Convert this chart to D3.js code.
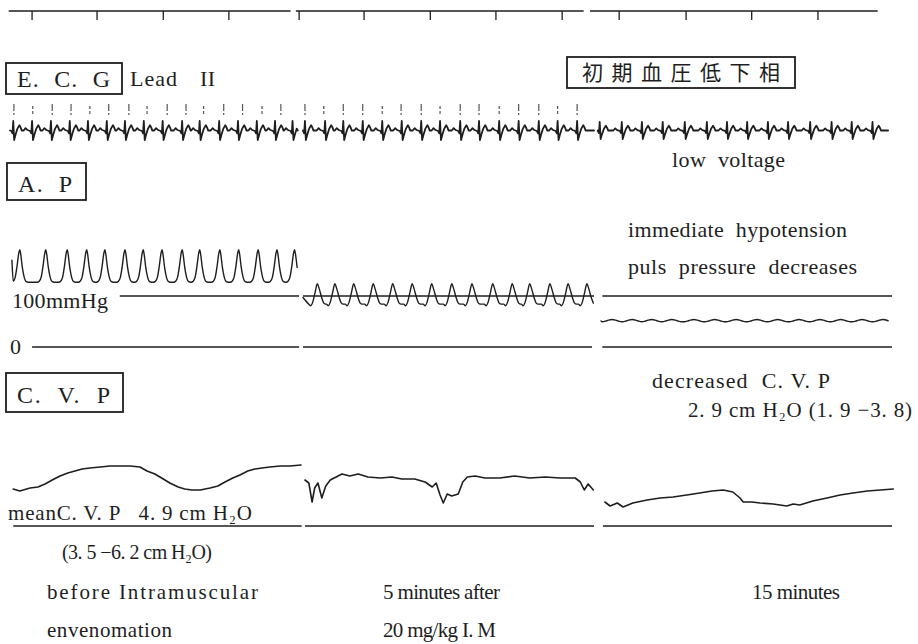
<!DOCTYPE html>
<html lang="en">
<head>
<meta charset="UTF-8">
<title>E.C.G / A.P / C.V.P recording</title>
<script src="https://d3js.org/d3.v7.min.js"></script>
<style>
  body { margin: 0; background: #fff; }
  svg text { white-space: pre; }
</style>
</head>
<body>
<script>
// time axis of each of the three strips, seconds
const stripSecs = 4.48;

// 1 s timer line at the top
const rulerSpans = [[-0.02, 4.32], [-0.11, 4.32], [-0.17, 4.26]];
const rulerTicks = [[0.34, 1.34, 2.36, 3.37], [-0.06, 0.94, 1.96, 2.97, 3.99], [0.28, 1.31, 2.32, 3.34]];

// ECG lead II: R-wave times (s), marker times, one beat (s from R, mV)
const ecgBeats1 = [0.05, 0.34, 0.63, 0.92, 1.20, 1.49, 1.77, 2.06, 2.35, 2.65, 2.92, 3.22, 3.51, 3.80, 4.08, 4.35];
const ecgBeats2 = [0.03, 0.34, 0.62, 0.92, 1.22, 1.52, 1.82, 2.11, 2.42, 2.71, 3.02, 3.32, 3.63, 3.92, 4.22];
const ecgBeats3 = [-0.02, 0.32, 0.63, 0.95, 1.29, 1.63, 1.94, 2.25, 2.57, 2.88, 3.22, 3.55, 3.86, 4.18];
const ecgMarks1 = [0.06, 0.35, 0.65, 0.94, 1.23, 1.52, 1.83, 2.11, 2.42, 2.71, 2.98, 3.29, 3.58, 3.88, 4.17];
const ecgMarks2 = [0.03, 0.32, 0.62, 0.92, 1.22, 1.51, 1.82, 2.11, 2.42, 2.71, 3.02, 3.32, 3.63, 3.92, 4.22];
const ecgShape = [[-0.13, 0], [-0.10, 0.25], [-0.07, 0.05], [-0.03, -0.05], [-0.012, -0.3], [0, 1.0],
                  [0.014, -1.0], [0.035, -0.45], [0.065, 0.2], [0.095, 0.55], [0.115, 0.3], [0.13, 0]];
const ecgGain = [1, 1, 0.9];
const ecgRange = [[0, 4.43], [0, 4.48], [-0.05, 4.42]];

// arterial pressure (mmHg): systolic peak times and one pulse per strip
const apPeaks1 = [0.15, 0.55, 0.88, 1.18, 1.46, 1.77, 2.05, 2.34, 2.65, 2.92, 3.23, 3.52, 3.82, 4.11, 4.38];
const apPeaks2 = [0.22, 0.49, 0.78, 1.08, 1.38, 1.68, 1.98, 2.29, 2.60, 2.92, 3.22, 3.49, 3.80, 4.08, 4.37];
const apPeaks3 = [0.17, 0.48, 0.78, 1.09, 1.43, 1.75, 2.08, 2.40, 2.72, 3.05, 3.37, 3.69, 4.02, 4.34];
const apPulse1 = [[-0.13, 127], [-0.10, 129], [-0.07, 137], [-0.04, 160], [-0.015, 184], [0, 191],
                  [0.015, 182], [0.04, 156], [0.07, 136], [0.10, 128], [0.13, 127]];
const apPulse2 = [[-0.13, 84], [-0.10, 81], [-0.07, 88], [-0.035, 106], [0, 124],
                  [0.03, 114], [0.065, 98], [0.10, 86], [0.13, 84]];
const apPulse3 = [[-0.15, 49.5], [-0.08, 51.5], [0, 54], [0.08, 51.5], [0.15, 49.5]];
const apStart = [[[0.03, 170]], [[0, 97]], [[0, 51]]];
const apRange = [[0.02, 4.42], [0, 4.48], [0, 4.48]];
const ref100Spans = [[1.69, 4.45], [0, 4.48], [0.02, 4.48]];
const ref0Spans = [[0.34, 4.45], [0, 4.45], [0.02, 4.48]];

// central venous pressure (cm H2O), [s, cm]
const cvp1 = [[0.05, 3.7], [0.15, 3.5], [0.31, 3.8], [0.43, 3.9], [0.54, 4.2], [0.65, 4.6], [0.77, 5.0],
  [0.89, 5.3], [1.00, 5.5], [1.11, 5.7], [1.23, 5.8], [1.39, 5.9], [1.54, 6.0], [1.69, 6.0], [1.85, 6.0],
  [2.00, 5.9], [2.11, 5.5], [2.23, 5.2], [2.36, 4.7], [2.46, 4.3], [2.59, 3.9], [2.69, 3.7], [2.80, 3.6],
  [2.93, 3.6], [3.08, 3.8], [3.20, 4.0], [3.31, 4.4], [3.43, 4.8], [3.54, 5.1], [3.66, 5.5], [3.77, 5.7],
  [3.88, 5.8], [4.00, 5.9], [4.16, 6.0], [4.31, 6.0], [4.48, 6.1]];
const cvp2 = [[0.03, 4.6], [0.09, 4.3], [0.14, 2.4], [0.18, 3.8], [0.23, 4.3], [0.29, 2.8], [0.35, 4.0],
  [0.42, 4.6], [0.51, 4.9], [0.60, 5.2], [0.72, 5.0], [0.85, 5.2], [1.00, 4.9], [1.19, 4.8], [1.37, 4.9],
  [1.52, 4.7], [1.72, 4.7], [1.88, 4.4], [1.99, 3.9], [2.05, 4.3], [2.11, 3.1], [2.16, 2.3], [2.22, 3.2],
  [2.29, 3.0], [2.39, 3.2], [2.46, 4.4], [2.53, 4.9], [2.65, 5.0], [2.80, 4.8], [3.03, 4.8], [3.26, 5.0],
  [3.49, 4.8], [3.73, 4.9], [3.96, 4.8], [4.19, 4.8], [4.27, 4.4], [4.33, 3.6], [4.39, 4.2], [4.47, 3.6]];
const cvp3 = [[0.06, 2.4], [0.14, 2.0], [0.25, 2.3], [0.34, 1.9], [0.49, 2.3], [0.71, 2.6], [0.91, 2.8],
  [1.11, 2.9], [1.32, 3.1], [1.52, 3.3], [1.71, 3.5], [1.88, 3.6], [2.03, 3.4], [2.14, 2.8], [2.19, 2.4],
  [2.32, 2.4], [2.45, 2.3], [2.65, 2.2], [2.86, 2.0], [2.96, 2.2], [3.06, 2.1], [3.26, 2.5], [3.48, 2.8],
  [3.68, 3.1], [3.88, 3.3], [4.10, 3.5], [4.30, 3.6], [4.50, 3.7]];
const cvpZeroSpans = [[0.05, 4.49], [0.03, 4.48], [0.03, 4.48]];

const W = 918, H = 644, ink = "#1e1e1e";
const serif = "'Liberation Serif', 'Times New Roman', 'DejaVu Serif', serif";
const svg = d3.select("body").append("svg").attr("width", W).attr("height", H)
  .attr("font-family", serif);

const panels = [[10, 301], [303, 594], [601, 892]];
const x = panels.map(r => d3.scaleLinear().domain([0, stripSecs]).range(r));
const ecgY = d3.scaleLinear().domain([-1, 1]).range([140, 121]);
const apY = d3.scaleLinear().domain([0, 100]).range([347, 296]);
const cvpY = d3.scaleLinear().domain([0, 10]).range([526, 426]);

function pulses(beats, shape, gain, extra, t0, t1) {
  let pts = extra.slice();
  beats.forEach(b => shape.forEach(([dt, v]) => pts.push([b + dt, v * gain])));
  pts.sort((a, b) => a[0] - b[0]);
  return pts.filter(p => p[0] >= t0 && p[0] <= t1);
}

function trace(data, xs, ys, width, curve) {
  svg.append("path")
    .attr("d", d3.line().x(d => xs(d[0])).y(d => ys(d[1])).curve(curve || d3.curveLinear)(data))
    .attr("fill", "none").attr("stroke", ink).attr("stroke-width", width)
    .attr("stroke-linejoin", "round").attr("stroke-linecap", "round");
}

function hline(span, xs, yPix, width) {
  svg.append("line")
    .attr("x1", xs(span[0])).attr("x2", xs(span[1]))
    .attr("y1", yPix).attr("y2", yPix)
    .attr("stroke", ink).attr("stroke-width", width);
}

// timer
rulerSpans.forEach((s, i) => {
  hline(s, x[i], 11, 1.6);
  svg.append("g").selectAll("line").data(rulerTicks[i]).join("line")
    .attr("x1", d => x[i](d)).attr("x2", d => x[i](d))
    .attr("y1", 11).attr("y2", 20)
    .attr("stroke", ink).attr("stroke-width", 1.3);
});

// ECG
[ecgBeats1, ecgBeats2, ecgBeats3].forEach((beats, i) => {
  const [t0, t1] = ecgRange[i];
  trace(pulses(beats, ecgShape, ecgGain[i], [[t0, 0], [t1, 0]], t0, t1), x[i], ecgY, 1.8);
});
[ecgMarks1, ecgMarks2].forEach((marks, i) => {
  svg.append("g").selectAll("line").data(marks).join("line")
    .attr("x1", d => x[i](d)).attr("x2", d => x[i](d))
    .attr("y1", (d, j) => j % 3 === 1 ? 106 : 104).attr("y2", 115)
    .attr("stroke", "#555").attr("stroke-width", 1.2)
    .attr("stroke-dasharray", (d, j) => j % 3 === 1 ? "3,2,3" : "7,2,2");
});

// A.P
[[apPeaks1, apPulse1], [apPeaks2, apPulse2], [apPeaks3, apPulse3]].forEach(([peaks, shape], i) => {
  const [t0, t1] = apRange[i];
  trace(pulses(peaks, shape, 1, apStart[i], t0, t1), x[i], apY, 1.4, d3.curveMonotoneX);
  hline(ref100Spans[i], x[i], apY(100), 1.6);
  hline(ref0Spans[i], x[i], apY(0), 1.5);
});

// C.V.P
[cvp1, cvp2, cvp3].forEach((d, i) => {
  trace(d, x[i], cvpY, 1.6);
  hline(cvpZeroSpans[i], x[i], cvpY(0), 1.7);
});

// boxed channel labels
function boxLabel(rx, ry, rw, rh, text, tx, ty, len, size, family) {
  svg.append("rect").attr("x", rx).attr("y", ry).attr("width", rw).attr("height", rh)
    .attr("fill", "none").attr("stroke", ink).attr("stroke-width", 1.8);
  svg.append("text").attr("x", tx).attr("y", ty).attr("font-size", size)
    .attr("font-family", family || serif).attr("fill", ink)
    .attr("textLength", len).attr("lengthAdjust", "spacing").text(text);
}
boxLabel(567, 57, 228, 31, "初期血圧低下相", 582, 80, 198, 21, "'Noto Sans CJK JP', sans-serif");
boxLabel(6, 63, 116, 31, "E.  C.  G", 17, 87, 93, 24);
boxLabel(7, 163, 79, 37, "A.  P", 18, 192, 54, 24);
boxLabel(6, 373, 117, 39, "C.  V.  P", 17, 403, 93, 24);

const notes = [
  ["Lead", 130, 86, 47, 22],
  ["II", 200, 86, 15, 22],
  ["low  voltage", 672, 167, 113, 22],
  ["immediate  hypotension", 628, 237, 219, 22],
  ["puls  pressure  decreases", 628, 274, 229, 22],
  ["100mmHg", 12, 308, 96, 22],
  ["0", 10, 354, 10, 22],
  ["decreased  C. V. P", 652, 388, 178, 22],
  ["2. 9 cm H₂O (1. 9 −3. 8)", 688, 417, 224, 21],
  ["meanC. V. P   4. 9 cm H₂O", 8, 520, 244, 21],
  ["(3. 5 −6. 2 cm H₂O)", 62, 559, 150, 20],
  ["before Intramuscular", 47, 599, 211, 21],
  ["envenomation", 47, 637, 125, 21],
  ["5 minutes after", 383, 599, 117, 21],
  ["20 mg/kg I. M", 383, 637, 113, 21],
  ["15 minutes", 752, 599, 88, 21]
];
svg.append("g").selectAll("text").data(notes).join("text")
  .attr("x", d => d[1]).attr("y", d => d[2])
  .attr("textLength", d => d[3]).attr("lengthAdjust", "spacing")
  .attr("font-size", d => d[4]).attr("fill", ink)
  .text(d => d[0]);
</script>
</body>
</html>
